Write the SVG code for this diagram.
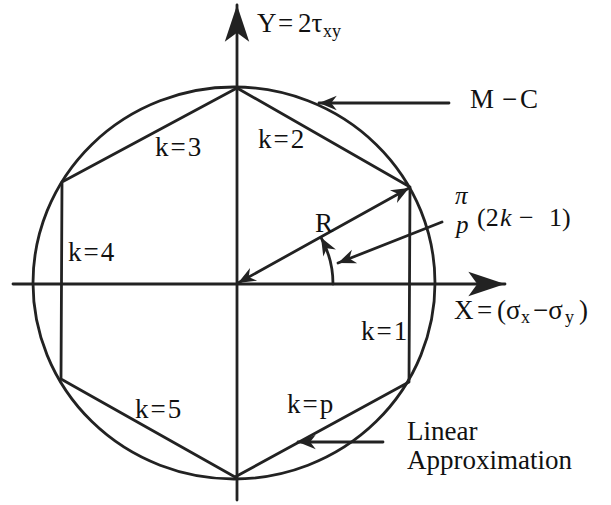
<svg xmlns="http://www.w3.org/2000/svg" width="611" height="505" viewBox="0 0 611 505">
<style>
.ln{fill:none;stroke:#222;stroke-width:2.8;stroke-linecap:round;stroke-linejoin:round}
text{font-family:'Liberation Serif','DejaVu Serif',serif;font-size:27px;fill:#111}
.k{letter-spacing:2px}
.it{font-style:italic}
.sub{font-size:18px}
.fr{font-size:25px}
.pa{font-size:26px}
</style>
<defs>
<marker id="big" markerUnits="userSpaceOnUse" markerWidth="40" markerHeight="30" viewBox="-34 -12 36 24" refX="0" refY="0" orient="auto">
<path d="M0,0 L-33,-11 L-25,0 L-33,11 Z" fill="#222"/>
</marker>
<marker id="sm" markerUnits="userSpaceOnUse" markerWidth="20" markerHeight="16" viewBox="-17 -7 18 14" refX="0" refY="0" orient="auto-start-reverse">
<path d="M0,0 L-16,-6.5 L-11,0 L-16,6.5 Z" fill="#222"/>
</marker>
</defs>
<rect width="611" height="505" fill="#fff"/>
<g id="mc-circle">
<ellipse class="ln" cx="234" cy="283" rx="201" ry="196"/>
</g>
<g id="linear-hexagon">
<polygon class="ln" points="237,88 410,187 409,382 235,477 61,379 62,182"/>
</g>
<g id="connectors">
<line id="y-axis" class="ln" x1="237" y1="500" x2="237" y2="5" marker-end="url(#big)"/>
<line id="x-axis" class="ln" x1="13" y1="284" x2="505" y2="284" marker-end="url(#big)"/>
<line id="r-line" class="ln" x1="238" y1="283" x2="409" y2="188" marker-start="url(#sm)" marker-end="url(#sm)"/>
<path id="angle-arc" class="ln" d="M333,284 A96,96 0 0 0 321,237.5" marker-end="url(#sm)"/>
<line id="angle-pointer" class="ln" x1="442" y1="222" x2="338" y2="263" marker-end="url(#sm)"/>
<line id="mc-pointer" class="ln" x1="449" y1="103" x2="319" y2="103" marker-end="url(#sm)"/>
<line id="lin-pointer" class="ln" x1="383" y1="442" x2="298" y2="442" marker-end="url(#sm)"/>
</g>
<g id="labels">
<text><tspan x="257" y="32">Y</tspan><tspan x="278" y="32">=</tspan><tspan x="298" y="32">2τ</tspan><tspan class="sub" x="323" y="37">xy</tspan></text>
<text><tspan x="470" y="108">M</tspan><tspan x="502" y="108">−</tspan><tspan x="520" y="108">C</tspan></text>
<text class="k" x="258" y="148">k=2</text>
<text class="k" x="155" y="156">k=3</text>
<text class="k" x="68" y="261">k=4</text>
<text class="k" x="361" y="340">k=1</text>
<text class="k" x="135" y="418">k=5</text>
<text class="k" x="287" y="413">k=p</text>
<text x="315" y="232">R</text>
<text class="fr"><tspan class="it" x="455" y="204">π</tspan><tspan class="it" x="456" y="233">p</tspan></text>
<text class="pa"><tspan x="477" y="226">(2</tspan><tspan class="it" x="500" y="226">k</tspan><tspan x="519" y="226">−</tspan><tspan x="549" y="226">1)</tspan></text>
<text><tspan x="454" y="319">X</tspan><tspan x="477" y="319">=</tspan><tspan x="497" y="319">(σ</tspan><tspan class="sub" x="521" y="323">x</tspan><tspan x="533" y="319">−σ</tspan><tspan class="sub" x="565" y="323">y</tspan><tspan x="579" y="319">)</tspan></text>
<text x="407" y="440">Linear</text>
<text x="407" y="469">Approximation</text>
</g>
</svg>
